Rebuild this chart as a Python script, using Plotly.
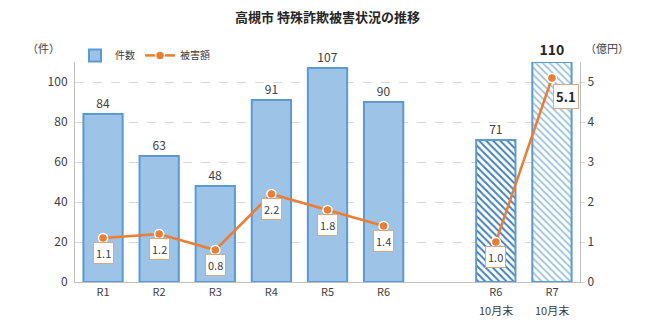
import plotly.graph_objects as go

categories = ["R1", "R2", "R3", "R4", "R5", "R6", "", "R6", "R7"]
sublabels = ["", "", "", "", "", "", "", "10月末", "10月末"]
counts = [84, 63, 48, 91, 107, 90, None, 71, 110]
amounts = [1.1, 1.2, 0.8, 2.2, 1.8, 1.4, None, 1.0, 5.1]
amount_labels = ["1.1", "1.2", "0.8", "2.2", "1.8", "1.4", None, "1.0", "5.1"]

xs = list(range(len(categories)))
BLUE_FILL = "#9DC3E6"
BLUE_LINE = "#5B9BD5"
ORANGE = "#ED7D31"
TXT = "#404040"

annual_idx = [0, 1, 2, 3, 4, 5]
fig = go.Figure()
fig.add_trace(go.Bar(
    x=[xs[i] for i in annual_idx], y=[counts[i] for i in annual_idx],
    name="件数", width=0.7,
    marker=dict(color=BLUE_FILL, line=dict(color=BLUE_LINE, width=2)),
    text=[str(counts[i]) for i in annual_idx], textposition="outside",
    cliponaxis=False, textfont=dict(color=TXT, size=12),
))
# hatched partial-year bars
for i, fgc, sol, bold in [(7, "#3F7FBF", 0.4, False), (8, "#9DC3E6", 0.35, True)]:
    fig.add_trace(go.Bar(
        x=[xs[i]], y=[counts[i]], name="件数", showlegend=False, width=0.7,
        marker=dict(color="white", line=dict(color=BLUE_LINE, width=2),
                    pattern=dict(shape="\\", fgcolor=fgc, bgcolor="white",
                                 size=5, solidity=sol, fillmode="replace")),
        text=[f"<b>{counts[i]}</b>" if bold else str(counts[i])],
        textposition="outside", cliponaxis=False,
        textfont=dict(color="#262626" if bold else TXT, size=14 if bold else 12),
    ))
fig.add_trace(go.Scatter(
    x=xs, y=amounts, name="被害額", yaxis="y2", mode="lines+markers",
    connectgaps=False,
    line=dict(color=ORANGE, width=2.5),
    marker=dict(color=ORANGE, size=9, line=dict(color="white", width=1.5)),
))

for i, (v, lab) in enumerate(zip(amounts, amount_labels)):
    if v is None:
        continue
    last = i == len(amounts) - 1
    fig.add_annotation(
        x=xs[i], y=v, yref="y2", text=f"<b>{lab}</b>" if last else lab,
        showarrow=False, yshift=-18 if last else -15, xshift=14 if last else 0,
        font=dict(size=13 if last else 11, color="#262626" if last else TXT),
        bgcolor="white", bordercolor="#D9A982", borderwidth=1, borderpad=2,
    )

for i, s in enumerate(sublabels):
    if s:
        fig.add_annotation(x=xs[i], y=0, yref="paper", yanchor="top", yshift=-18,
                           text=s, showarrow=False, font=dict(size=11, color=TXT))

fig.add_annotation(x=0.5, y=1.205, xref="paper", yref="paper", yanchor="middle",
                   xanchor="center", text="<b>高槻市 特殊詐欺被害状況の推移</b>",
                   showarrow=False, font=dict(size=13, color="#262626"))
fig.add_annotation(x=-0.1, y=1.11, xref="paper", yref="paper", text="（件）",
                   showarrow=False, font=dict(size=11, color=TXT))
fig.add_annotation(x=1.1, y=1.11, xref="paper", yref="paper", text="（億円）",
                   showarrow=False, font=dict(size=11, color=TXT))

fig.update_layout(
    width=650, height=331,
    margin=dict(l=75, r=70, t=62, b=49),
    paper_bgcolor="white", plot_bgcolor="white",
    font=dict(family="Noto Sans CJK JP, Noto Sans, sans-serif", color=TXT),
    showlegend=True, barmode="overlay",
    legend=dict(orientation="h", x=0.0, y=1.03, xanchor="left", yanchor="middle",
                font=dict(size=10, color=TXT), bgcolor="rgba(0,0,0,0)",
                itemwidth=30, tracegroupgap=0),
    xaxis=dict(tickmode="array", tickvals=xs, ticktext=categories,
               range=[-0.5, len(xs) - 0.5], showgrid=False,
               showline=True, linecolor="#BFBFBF", linewidth=1,
               ticks="", tickfont=dict(size=11, color=TXT)),
    yaxis=dict(range=[0, 110], dtick=20, showgrid=True, gridcolor="#D9D9D9",
               griddash="dash", zeroline=False, showline=True, linecolor="#BFBFBF",
               tickfont=dict(size=12, color=TXT), ticks="outside", ticklen=4,
               tickcolor="white"),
    yaxis2=dict(range=[0, 5.5], dtick=1, overlaying="y", side="right",
                showgrid=False, zeroline=False, showline=True, linecolor="#BFBFBF",
                ticks="outside", ticklen=4, tickcolor="#D9D9D9",
                tickfont=dict(size=12, color=TXT)),
)

fig.write_html("out.html")
